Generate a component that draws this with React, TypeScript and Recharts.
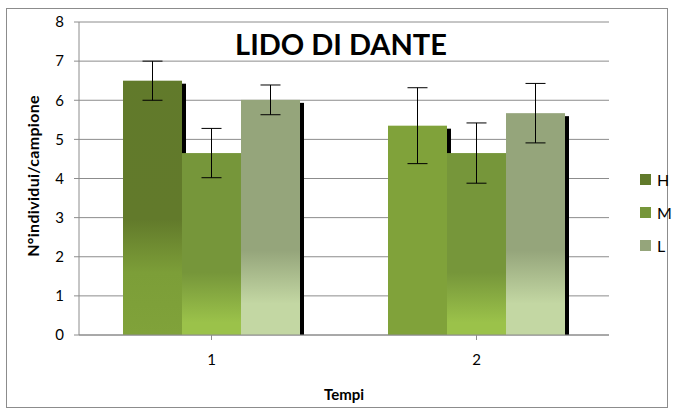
import React from 'react';
import { BarChart, Bar, XAxis, YAxis, CartesianGrid, ErrorBar, Cell } from 'recharts';

const categories = ['1', '2'];
const hValues = [6.5, 5.35];
const mValues = [4.65, 4.65];
const lValues = [6.01, 5.67];
const hErrors = [0.5, 0.97];
const mErrors = [0.63, 0.77];
const lErrors = [0.38, 0.76];
const yTicks = [0, 1, 2, 3, 4, 5, 6, 7, 8];

const data = categories.map((t, i) => ({
  t,
  H: hValues[i],
  M: mValues[i],
  L: lValues[i],
  hErr: hErrors[i],
  mErr: mErrors[i],
  lErr: lErrors[i],
}));

const FONT = 'Lato, "Open Sans", sans-serif';

const legendItems = [
  { name: 'H', color: '#617a2b' },
  { name: 'M', color: '#76963a' },
  { name: 'L', color: '#95a57b' },
];

// bar with a black drop shadow offset to the right
function ShadowBar(props: any) {
  const { x, y, width, height, fill } = props;
  if (!height || height <= 0) return null;
  return (
    <g>
      <rect x={x + 4} y={y + 3} width={width} height={height - 3} fill="#000" />
      <rect x={x} y={y} width={width} height={height} fill={fill} />
    </g>
  );
}

export default function App() {
  return (
    <div style={{ position: 'absolute', left: 0, top: 0, width: 675, height: 415, background: '#fff' }}>
      <div
        style={{
          position: 'absolute',
          left: 6,
          top: 8,
          width: 662,
          height: 400,
          border: '1px solid #8c8c8c',
          boxSizing: 'border-box',
        }}
      />
      <BarChart
        width={675}
        height={415}
        data={data}
        margin={{ top: 22, right: 66, left: 0, bottom: 0 }}
        barGap={0}
        barCategoryGap={44}
        style={{ position: 'absolute', left: 0, top: 0 }}
      >
        <defs>
          <linearGradient id="gH" gradientUnits="userSpaceOnUse" x1="0" y1="22" x2="0" y2="335">
            <stop offset="0" stopColor="#617a2b" />
            <stop offset="0.63" stopColor="#627a2b" />
            <stop offset="0.8" stopColor="#7c9e38" />
            <stop offset="1" stopColor="#80a23a" />
          </linearGradient>
          <linearGradient id="gM" gradientUnits="userSpaceOnUse" x1="0" y1="22" x2="0" y2="335">
            <stop offset="0" stopColor="#76963a" />
            <stop offset="0.8" stopColor="#76963a" />
            <stop offset="0.96" stopColor="#9bc24a" />
            <stop offset="1" stopColor="#9bc24a" />
          </linearGradient>
          <linearGradient id="gL" gradientUnits="userSpaceOnUse" x1="0" y1="22" x2="0" y2="335">
            <stop offset="0" stopColor="#95a57b" />
            <stop offset="0.73" stopColor="#95a57b" />
            <stop offset="0.9" stopColor="#c3d7a3" />
            <stop offset="1" stopColor="#c3d7a3" />
          </linearGradient>
        </defs>
        <CartesianGrid vertical={false} stroke="#8c8c8c" strokeWidth={1} />
        <XAxis
          dataKey="t"
          height={80}
          stroke="#8c8c8c"
          tickSize={5}
          tickMargin={14}
          tick={{ fontSize: 15, fill: '#000', fontFamily: FONT }}
        />
        <YAxis
          domain={[0, 8]}
          ticks={yTicks}
          interval={0}
          width={79}
          stroke="#8c8c8c"
          tickSize={5}
          tickMargin={10}
          tick={{ fontSize: 15, fill: '#000', fontFamily: FONT }}
        />
        <Bar dataKey="H" fill="url(#gH)" shape={ShadowBar} isAnimationActive={false}>
          <Cell fill="url(#gH)" />
          <Cell fill="#80a23a" />
          <ErrorBar dataKey="hErr" width={10} stroke="#000" strokeWidth={1} direction="y" isAnimationActive={false} />
        </Bar>
        <Bar dataKey="M" fill="url(#gM)" shape={ShadowBar} isAnimationActive={false}>
          <ErrorBar dataKey="mErr" width={10} stroke="#000" strokeWidth={1} direction="y" isAnimationActive={false} />
        </Bar>
        <Bar dataKey="L" fill="url(#gL)" shape={ShadowBar} isAnimationActive={false}>
          <ErrorBar dataKey="lErr" width={10} stroke="#000" strokeWidth={1} direction="y" isAnimationActive={false} />
        </Bar>
      </BarChart>
      <div style={{ position: 'absolute', left: 640, top: 163, fontFamily: FONT, fontSize: 16, color: '#000' }}>
        {legendItems.map((it) => (
          <div key={it.name} style={{ display: 'flex', alignItems: 'center', height: 33 }}>
            <span style={{ width: 11, height: 11, background: it.color, marginRight: 6 }} />
            <span>{it.name}</span>
          </div>
        ))}
      </div>
      <div
        style={{
          position: 'absolute',
          left: 141,
          width: 400,
          top: 28,
          textAlign: 'center',
          fontFamily: FONT,
          fontWeight: 'bold',
          fontSize: 29,
          lineHeight: '32px',
        }}
      >
        LIDO DI DANTE
      </div>
      <div
        style={{
          position: 'absolute',
          left: 33 - 100,
          top: 176 - 9,
          width: 200,
          height: 18,
          lineHeight: '18px',
          textAlign: 'center',
          transform: 'rotate(-90deg)',
          fontFamily: FONT,
          fontWeight: 'bold',
          fontSize: 16,
          letterSpacing: 0.3,
        }}
      >
        N°individui/campione
      </div>
      <div
        style={{
          position: 'absolute',
          left: 244,
          width: 200,
          top: 385,
          lineHeight: '18px',
          textAlign: 'center',
          fontFamily: FONT,
          fontWeight: 'bold',
          fontSize: 15,
        }}
      >
        Tempi
      </div>
    </div>
  );
}
